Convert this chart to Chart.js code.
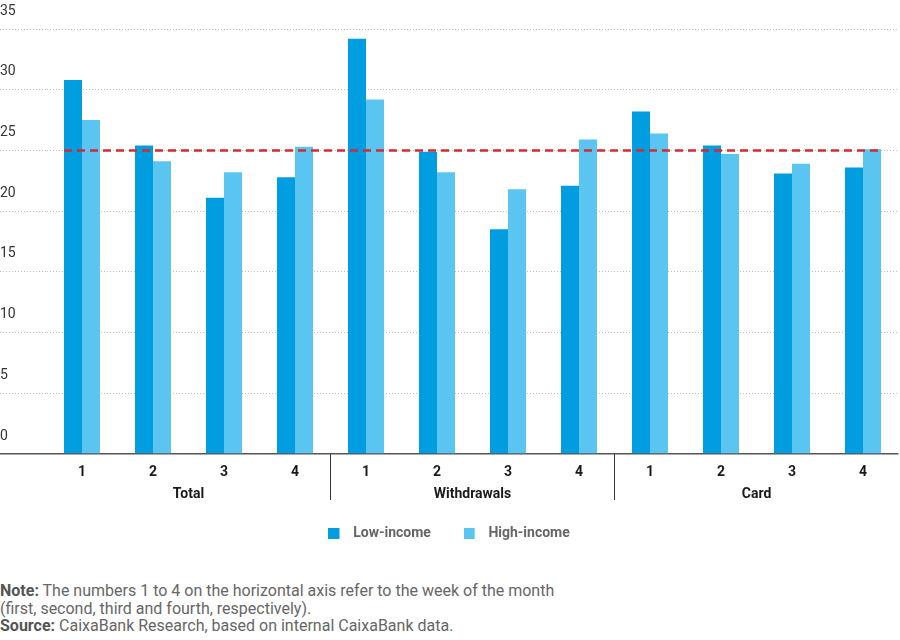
<!DOCTYPE html>
<html>
<head>
<meta charset="utf-8">
<script src="https://cdn.jsdelivr.net/npm/chart.js@4.4.1/dist/chart.umd.min.js"></script>
<style>
  html, body { margin: 0; padding: 0; background: #fff; }
  #wrap { position: relative; width: 900px; height: 578px; }
  #note { position: absolute; left: 0; top: 582px; width: 900px; font-family: Roboto, sans-serif; font-size: 16px; line-height: 17.5px; color: #666; }
  #note b { color: #555; }
</style>
</head>
<body>
<div id="wrap"><canvas id="c"></canvas></div>
<div id="note"><b>Note:</b> The numbers 1 to 4 on the horizontal axis refer to the week of the month<br>(first, second, third and fourth, respectively).<br><b>Source:</b> CaixaBank Research, based on internal CaixaBank data.</div>
<script>
// ---- data ----
const weeks = ['1', '2', '3', '4'];
const groups = ['Total', 'Withdrawals', 'Card'];
const lowIncome  = [30.8, 25.4, 21.1, 22.8, 34.2, 24.9, 18.5, 22.1, 28.2, 25.4, 23.1, 23.6];
const highIncome = [27.5, 24.1, 23.2, 25.3, 29.2, 23.2, 21.8, 25.9, 26.4, 24.7, 23.9, 25.1];
const seriesNames = ['Low-income', 'High-income'];
const referenceValue = 25;
const yTicks = [0, 5, 10, 15, 20, 25, 30, 35];

const colors = ['#009ee0', '#5bc5f2'];
const categoryLabels = [];
groups.forEach(() => weeks.forEach(w => categoryLabels.push(w)));

Chart.defaults.font.family = 'Roboto, sans-serif';

function makeSwatch(color) {
  const c = document.createElement('canvas');
  c.width = 18; c.height = 11;
  const g = c.getContext('2d');
  g.fillStyle = color;
  g.fillRect(0, 0, 11, 11);
  return c;
}

const refLinePlugin = {
  id: 'refLine',
  afterDatasetsDraw(chart) {
    const m0 = chart.getDatasetMeta(0), m1 = chart.getDatasetMeta(1);
    const first = m0.data[0], last = m1.data[m1.data.length - 1];
    const x0 = first.x - first.width / 2, x1 = last.x + last.width / 2;
    const y = chart.scales.y.getPixelForValue(referenceValue);
    const ctx = chart.ctx;
    ctx.save();
    ctx.strokeStyle = '#d42a32';
    ctx.lineWidth = 2.5;
    ctx.setLineDash([8, 5]);
    ctx.beginPath();
    ctx.moveTo(x0, y);
    ctx.lineTo(x1, y);
    ctx.stroke();
    ctx.restore();
  }
};

new Chart(document.getElementById('c'), {
  type: 'bar',
  data: {
    labels: categoryLabels,
    datasets: [
      { label: seriesNames[0], data: lowIncome, backgroundColor: colors[0], categoryPercentage: 0.507, barPercentage: 1 },
      { label: seriesNames[1], data: highIncome, backgroundColor: colors[1], categoryPercentage: 0.507, barPercentage: 1 }
    ]
  },
  options: {
    responsive: true,
    maintainAspectRatio: false,
    animation: false,
    layout: { padding: { top: 29, left: 0, right: 1.5, bottom: 28 } },
    plugins: {
      tooltip: { enabled: false },
      legend: {
        position: 'bottom',
        labels: {
          usePointStyle: true,
          pointStyleWidth: 17.5,
          boxHeight: 11,
          padding: 33,
          color: '#666',
          font: { size: 14, weight: 'bold' },
          generateLabels(chart) {
            const items = Chart.defaults.plugins.legend.labels.generateLabels(chart);
            items.forEach((it, i) => { it.pointStyle = makeSwatch(colors[i]); });
            return items;
          }
        }
      }
    },
    scales: {
      x: {
        type: 'category',
        position: 'bottom',
        border: { display: false },
        grid: {
          offset: true,
          drawOnChartArea: false,
          drawTicks: true,
          tickLength: 46,
          color: ctx => (ctx.index === weeks.length || ctx.index === weeks.length * 2) ? '#333' : 'rgba(0,0,0,0)',
          lineWidth: 1
        },
        ticks: { padding: -36, color: '#1a1a1a', font: { size: 14, weight: 'bold' }, maxRotation: 0, autoSkip: false },
        afterFit(scale) { scale.height = 27; }
      },
      x2: {
        type: 'category',
        position: 'bottom',
        labels: groups,
        offset: true,
        border: { display: false },
        grid: { display: false },
        ticks: { mirror: true, padding: -21.4, color: '#1a1a1a', font: { size: 14, weight: 'bold' }, maxRotation: 0 },
        afterFit(scale) { scale.height = 12; }
      },
      y: {
        min: 0,
        max: 35,
        afterBuildTicks(scale) { scale.ticks = yTicks.map(v => ({ value: v })); },
        afterFit(scale) { scale.width = 46.5; },
        border: {
          display: false,
          dash: ctx => ctx.tick && ctx.tick.value === 0 ? [] : [1, 2]
        },
        grid: {
          drawTicks: true,
          tickLength: 46.5,
          color: ctx => ctx.tick && ctx.tick.value === 0 ? '#555' : '#bdbdbd',
          tickColor: ctx => ctx.tick && ctx.tick.value === 0 ? '#555' : '#bdbdbd',
          tickBorderDash: ctx => ctx.tick && ctx.tick.value === 0 ? [] : [1, 2],
          lineWidth: ctx => ctx.tick && ctx.tick.value === 0 ? 1.5 : 1,
          tickWidth: ctx => ctx.tick && ctx.tick.value === 0 ? 1.5 : 1
        },
        ticks: {
          crossAlign: 'far',
          labelOffset: -18,
          padding: 0,
          color: '#333',
          font: { size: 14 }
        }
      }
    }
  },
  plugins: [refLinePlugin]
});
</script>
</body>
</html>
